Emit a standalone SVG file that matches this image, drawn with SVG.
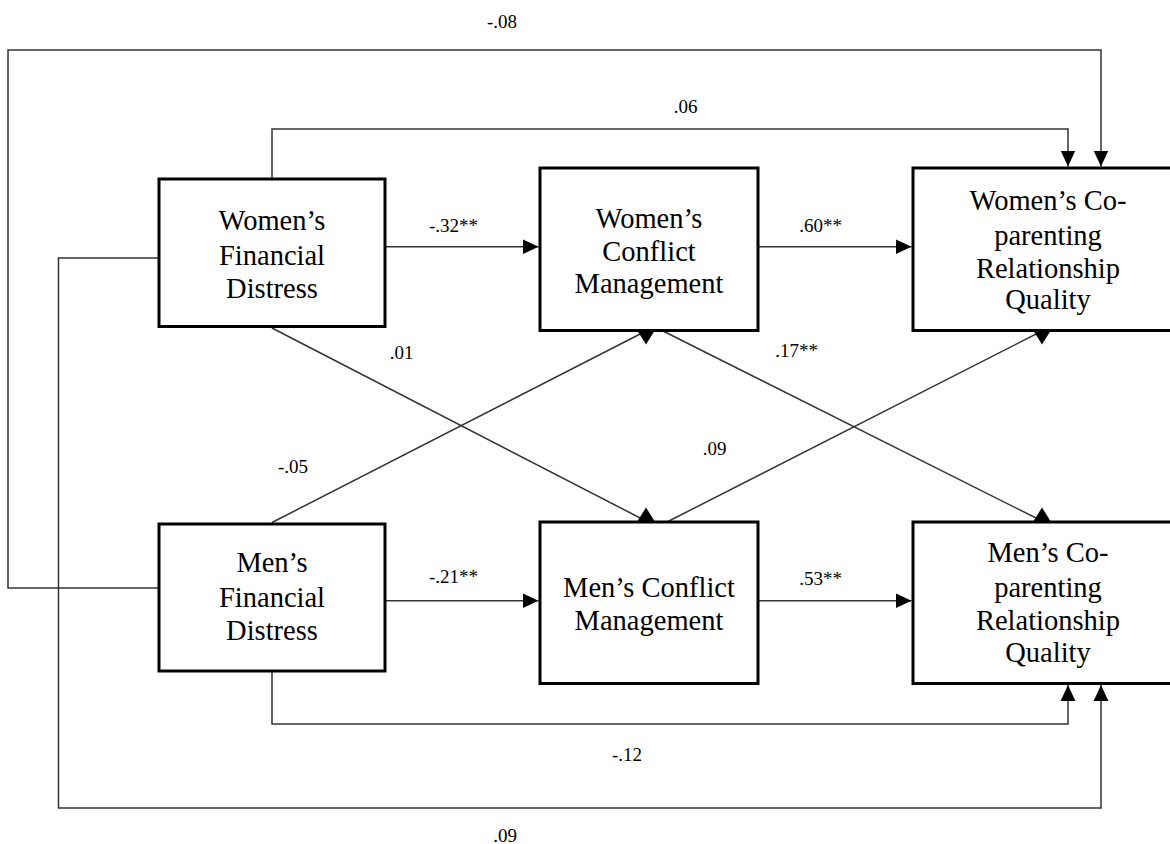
<svg xmlns="http://www.w3.org/2000/svg" width="1170" height="844" viewBox="0 0 1170 844">
<style>
.box{fill:#fff;stroke:#000;stroke-width:3}
.nt{font-family:"Liberation Serif","Times New Roman",serif;font-size:28.5px;fill:#000;text-anchor:middle}
.lb{font-family:"Liberation Serif","Times New Roman",serif;font-size:19px;fill:#000;text-anchor:middle}
.c{fill:none;stroke:#333;stroke-width:1.5}
</style>
<defs>
<marker id="ah" markerUnits="userSpaceOnUse" markerWidth="16" markerHeight="16" refX="14" refY="7" orient="auto" viewBox="0 0 14 14">
<path d="M0,0.5 L14,7 L0,13.5 z" fill="#000"/>
</marker>
<marker id="tipDown" markerUnits="userSpaceOnUse" markerWidth="18" markerHeight="16" refX="8" refY="1" orient="0" viewBox="0 0 16 14">
<path d="M0.5,1 L15.5,1 L8,13 z" fill="#000"/>
</marker>
<marker id="tipUp" markerUnits="userSpaceOnUse" markerWidth="18" markerHeight="16" refX="8" refY="13" orient="0" viewBox="0 0 16 14">
<path d="M0.5,13 L15.5,13 L8,1 z" fill="#000"/>
</marker>
</defs>
<g id="connectors">
<path class="c" d="M159,588 H8 V50 H1101 V166.5" marker-end="url(#ah)"/>
<path class="c" d="M272,179 V129 H1068 V166.5" marker-end="url(#ah)"/>
<path class="c" d="M159,258 H58.5 V808 H1101 V685" marker-end="url(#ah)"/>
<path class="c" d="M272,671 V724 H1068 V685" marker-end="url(#ah)"/>
<path class="c" d="M385,246.7 H538.5" marker-end="url(#ah)"/>
<path class="c" d="M758,246.7 H911.5" marker-end="url(#ah)"/>
<path class="c" d="M385,600.7 H538.5" marker-end="url(#ah)"/>
<path class="c" d="M758,600.7 H911.5" marker-end="url(#ah)"/>
<path class="c" d="M272,328 L646,521" marker-end="url(#tipUp)"/>
<path class="c" d="M272,522.5 L646,331" marker-end="url(#tipDown)"/>
<path class="c" d="M663,331 L1042,521" marker-end="url(#tipUp)"/>
<path class="c" d="M667,522 L1042,331" marker-end="url(#tipDown)"/>
<text class="lb" x="502" y="28">-.08</text>
<text class="lb" x="685.5" y="113">.06</text>
<text class="lb" x="453.5" y="232">-.32**</text>
<text class="lb" x="820.5" y="232">.60**</text>
<text class="lb" x="401.5" y="359">.01</text>
<text class="lb" x="796.5" y="357">.17**</text>
<text class="lb" x="293" y="473">-.05</text>
<text class="lb" x="714.5" y="455">.09</text>
<text class="lb" x="453.5" y="583">-.21**</text>
<text class="lb" x="820.5" y="585">.53**</text>
<text class="lb" x="627" y="761">-.12</text>
<text class="lb" x="505" y="842">.09</text>
</g>
<g id="wfd">
<rect class="box" x="159" y="179" width="226" height="147.5"/>
<text class="nt" x="272" y="230">Women’s</text>
<text class="nt" x="272" y="264.5">Financial</text>
<text class="nt" x="272" y="298">Distress</text>
</g>
<g id="wcm">
<rect class="box" x="540" y="168" width="218" height="162.5"/>
<text class="nt" x="649" y="228">Women’s</text>
<text class="nt" x="649" y="260.5">Conflict</text>
<text class="nt" x="649" y="293">Management</text>
</g>
<g id="wco">
<rect class="box" x="913" y="168" width="280" height="162.5"/>
<text class="nt" x="1048" y="210">Women’s Co-</text>
<text class="nt" x="1048" y="244.5">parenting</text>
<text class="nt" x="1048" y="277.5">Relationship</text>
<text class="nt" x="1048" y="309">Quality</text>
</g>
<g id="mfd">
<rect class="box" x="159" y="524" width="226" height="147"/>
<text class="nt" x="272" y="572">Men’s</text>
<text class="nt" x="272" y="606.5">Financial</text>
<text class="nt" x="272" y="640">Distress</text>
</g>
<g id="mcm">
<rect class="box" x="540" y="522" width="218" height="161.5"/>
<text class="nt" x="649" y="597">Men’s Conflict</text>
<text class="nt" x="649" y="630">Management</text>
</g>
<g id="mco">
<rect class="box" x="913" y="522" width="280" height="161.5"/>
<text class="nt" x="1048" y="562">Men’s Co-</text>
<text class="nt" x="1048" y="596.5">parenting</text>
<text class="nt" x="1048" y="630">Relationship</text>
<text class="nt" x="1048" y="662">Quality</text>
</g>
</svg>
